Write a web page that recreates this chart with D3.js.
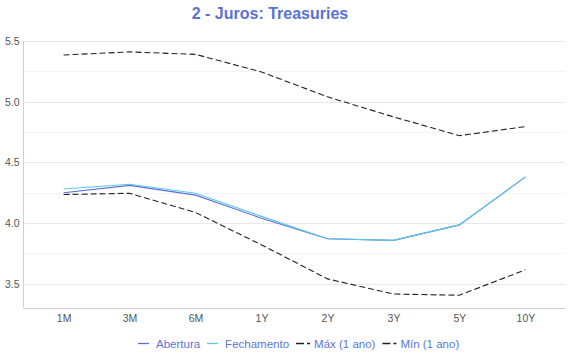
<!DOCTYPE html>
<html><head><meta charset="utf-8">
<script src="https://cdn.jsdelivr.net/npm/d3@7/dist/d3.min.js"></script>
<style>body{margin:0;background:#fff;font-family:"Liberation Sans",Arial,sans-serif}</style>
</head><body><svg id="c" width="570" height="360"></svg>
<script>
const categories = ["1M","3M","6M","1Y","2Y","3Y","5Y","10Y"];
const abertura   = [4.25,4.31,4.23,4.04,3.87,3.857,3.985,4.38];
const fechamento = [4.28,4.32,4.245,4.055,3.87,3.857,3.985,4.38];
const maxAno     = [5.385,5.41,5.39,5.245,5.04,4.875,4.72,4.795];
const minAno     = [4.235,4.245,4.087,3.82,3.54,3.415,3.405,3.615];
const yTicks     = [3.5,4.0,4.5,5.0,5.5];
const yMinor     = [3.75,4.25,4.75,5.25];
const seriesNames = ["Abertura","Fechamento","Máx (1 ano)","Mín (1 ano)"];

const svg = d3.select("#c");
const x = d3.scalePoint().domain(categories).range([24,565]).padding(0.6);
const y = d3.scaleLinear().domain([3.3,5.5]).range([308,41]);

svg.append("g").selectAll("line").data(yMinor).join("line")
  .attr("x1",24).attr("x2",565).attr("y1",d=>Math.round(y(d))+0.5).attr("y2",d=>Math.round(y(d))+0.5)
  .attr("stroke","#f4f4f4").attr("stroke-width",1);
svg.append("g").selectAll("line").data(yTicks).join("line")
  .attr("x1",24).attr("x2",565).attr("y1",d=>Math.round(y(d))+0.5).attr("y2",d=>Math.round(y(d))+0.5)
  .attr("stroke","#e8e8e8").attr("stroke-width",1);

const ya = svg.append("g").attr("transform","translate(23.5,0)")
  .call(d3.axisLeft(y).tickValues(yTicks).tickFormat(d3.format(".1f")).tickSize(0).tickPadding(4));
ya.select(".domain").attr("stroke","#d0d0d0").attr("d","M0,41V308");
ya.selectAll("text").attr("fill","#555").attr("font-size","10.5px").attr("font-family","Liberation Sans, Arial, sans-serif");

const xa = svg.append("g").attr("transform","translate(0,308.5)")
  .call(d3.axisBottom(x).tickSize(0).tickPadding(6));
xa.select(".domain").attr("stroke","#d0d0d0").attr("d","M23.5,0H565");
xa.selectAll("text").attr("fill","#555").attr("font-size","10.5px").attr("font-family","Liberation Sans, Arial, sans-serif");

const line = d3.line().x((d,i)=>x(categories[i])).y(d=>y(d));
const styles = [
  {data:abertura, color:"#5b6fd6", dash:null},
  {data:fechamento, color:"#5cc6e6", dash:null},
  {data:maxAno, color:"#222", dash:"6,3"},
  {data:minAno, color:"#222", dash:"6,3"}
];
[2,3,0,1].forEach(k=>{
  const s = styles[k];
  svg.append("path").datum(s.data).attr("d",line).attr("fill","none")
    .attr("stroke",s.color).attr("stroke-width",1.1)
    .attr("stroke-dasharray",s.dash);
});

svg.append("text").attr("x",270).attr("y",19).attr("text-anchor","middle")
  .attr("font-size","16px").attr("font-weight","bold").attr("fill","#5a72d2")
  .text("2 - Juros: Treasuries");

const lg = svg.append("g").attr("font-size","11.5px");
let cx = 138;
seriesNames.forEach((n,i)=>{
  const s = styles[i];
  const g = lg.append("g").attr("transform",`translate(${cx},344)`);
  g.append("line").attr("x1",0).attr("x2",s.dash?14:11).attr("y1",-0.5).attr("y2",-0.5)
    .attr("stroke",s.color).attr("stroke-width",1.3).attr("stroke-dasharray",s.dash?"8,3":null);
  const tx = s.dash?18:18;
  const t = g.append("text").attr("x",tx).attr("y",4).attr("fill","#5a76d6").text(n);
  cx += tx + t.node().getComputedTextLength() + 7;
});
</script></body></html>
